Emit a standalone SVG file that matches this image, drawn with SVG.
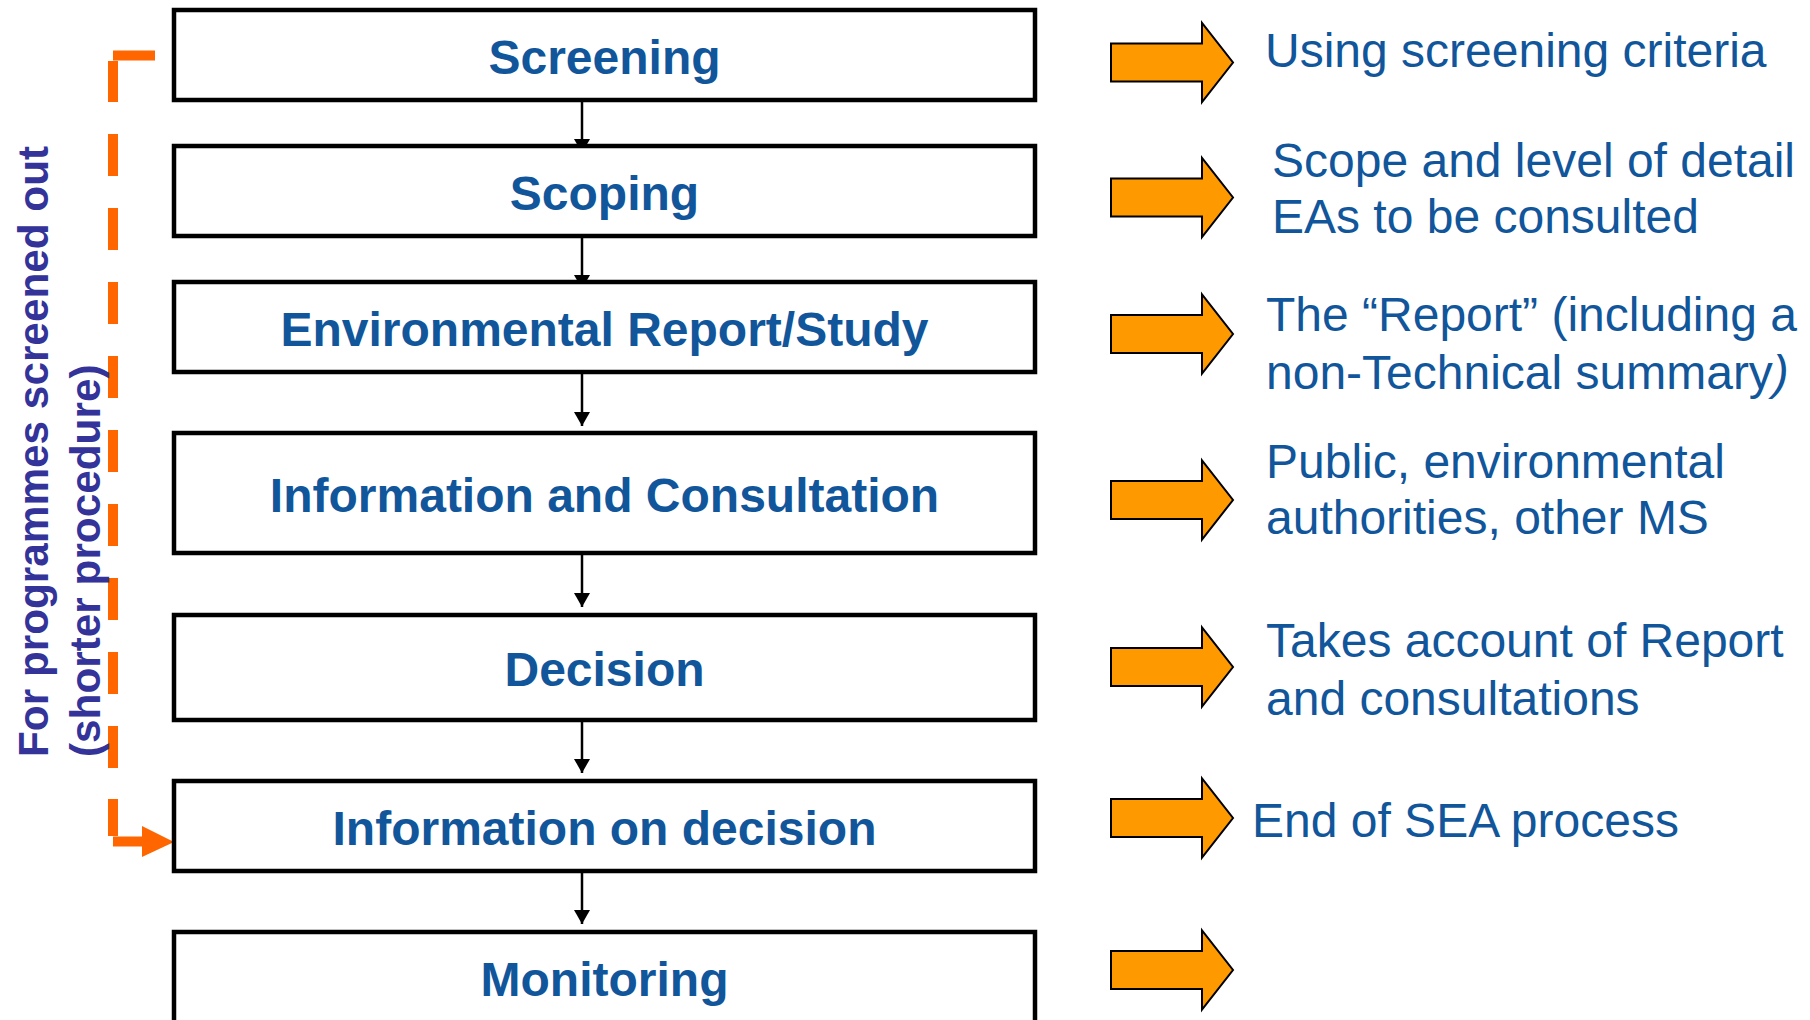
<svg xmlns="http://www.w3.org/2000/svg" width="1810" height="1020" viewBox="0 0 1810 1020">
<defs>
<style>
.box{fill:#fff;stroke:#000;stroke-width:4.5}
.lbl{font-family:"Liberation Sans",Arial,sans-serif;font-weight:bold;font-size:48px;fill:#11569B;text-anchor:middle}
.note{font-family:"Liberation Sans",Arial,sans-serif;font-size:48px;fill:#11569B}
.side{font-family:"Liberation Sans",Arial,sans-serif;font-weight:bold;font-size:42.3px;fill:#333399}
.conn{stroke:#000;stroke-width:2.5;fill:none}
.oarrow{fill:#FF9900;stroke:#000;stroke-width:2}
.dash{stroke:#FF6600;stroke-width:10;fill:none}
</style>
<marker id="ah" markerUnits="userSpaceOnUse" markerWidth="16" markerHeight="16" refX="14" refY="8" orient="auto">
<path d="M0,0 L14,8 L0,16 z" fill="#000"/>
</marker>
<polygon id="oa" class="oarrow" points="1111,-19 1202,-19 1202,-39.5 1233,0 1202,39.5 1202,19 1111,19"/>
</defs>
<rect width="1810" height="1020" fill="#fff"/>

<g id="connectors">
<line class="conn" x1="582" y1="102" x2="582" y2="153" marker-end="url(#ah)"/>
<line class="conn" x1="582" y1="238" x2="582" y2="289" marker-end="url(#ah)"/>
<line class="conn" x1="582" y1="374" x2="582" y2="426" marker-end="url(#ah)"/>
<line class="conn" x1="582" y1="555" x2="582" y2="607" marker-end="url(#ah)"/>
<line class="conn" x1="582" y1="722" x2="582" y2="773" marker-end="url(#ah)"/>
<line class="conn" x1="582" y1="873" x2="582" y2="924" marker-end="url(#ah)"/>
<g id="shortcut">
<line class="dash" x1="113" y1="55.5" x2="155" y2="55.5"/>
<line class="dash" x1="113" y1="61" x2="113" y2="102"/>
<line class="dash" x1="113" y1="134" x2="113" y2="799" stroke-dasharray="42 32"/>
<line class="dash" x1="113" y1="799" x2="113" y2="836"/>
<line class="dash" x1="113" y1="841.5" x2="143" y2="841.5"/>
<polygon points="142,826 174,842 142,857" fill="#FF6600"/>
</g>
</g>

<g id="screening"><rect class="box" x="174" y="10" width="861" height="90"/><text class="lbl" x="604.5" y="74">Screening</text></g>
<g id="scoping"><rect class="box" x="174" y="146" width="861" height="90"/><text class="lbl" x="604.5" y="210">Scoping</text></g>
<g id="report"><rect class="box" x="174" y="282" width="861" height="90"/><text class="lbl" x="604.5" y="346">Environmental Report/Study</text></g>
<g id="consultation"><rect class="box" x="174" y="433" width="861" height="120"/><text class="lbl" x="604.5" y="512">Information and Consultation</text></g>
<g id="decision"><rect class="box" x="174" y="615" width="861" height="105"/><text class="lbl" x="604.5" y="686">Decision</text></g>
<g id="infodecision"><rect class="box" x="174" y="781" width="861" height="90"/><text class="lbl" x="604.5" y="845">Information on decision</text></g>
<g id="monitoring"><rect class="box" x="174" y="932" width="861" height="110"/><text class="lbl" x="604.5" y="996">Monitoring</text></g>

<g id="side-label">
<text class="side" transform="translate(48,757) rotate(-90)">For programmes screened out</text>
<text class="side" transform="translate(100,757) rotate(-90)">(shorter procedure)</text>
</g>

<g id="outcome-arrows">
<use href="#oa" y="62.5"/>
<use href="#oa" y="197.5"/>
<use href="#oa" y="334"/>
<use href="#oa" y="500"/>
<use href="#oa" y="667"/>
<use href="#oa" y="818"/>
<use href="#oa" y="970"/>
</g>

<g id="notes">
<text class="note" x="1265" y="67">Using screening criteria</text>
<text class="note" x="1272" y="177">Scope and level of detail</text>
<text class="note" x="1272" y="233">EAs to be consulted</text>
<text class="note" x="1266" y="331">The “Report” (including a</text>
<text class="note" x="1266" y="389">non-Technical summary<tspan font-style="italic">)</tspan></text>
<text class="note" x="1266" y="478">Public, environmental</text>
<text class="note" x="1266" y="534">authorities, other MS</text>
<text class="note" x="1266" y="657">Takes account of Report</text>
<text class="note" x="1266" y="715">and consultations</text>
<text class="note" x="1252" y="837">End of SEA process</text>
</g>
</svg>
